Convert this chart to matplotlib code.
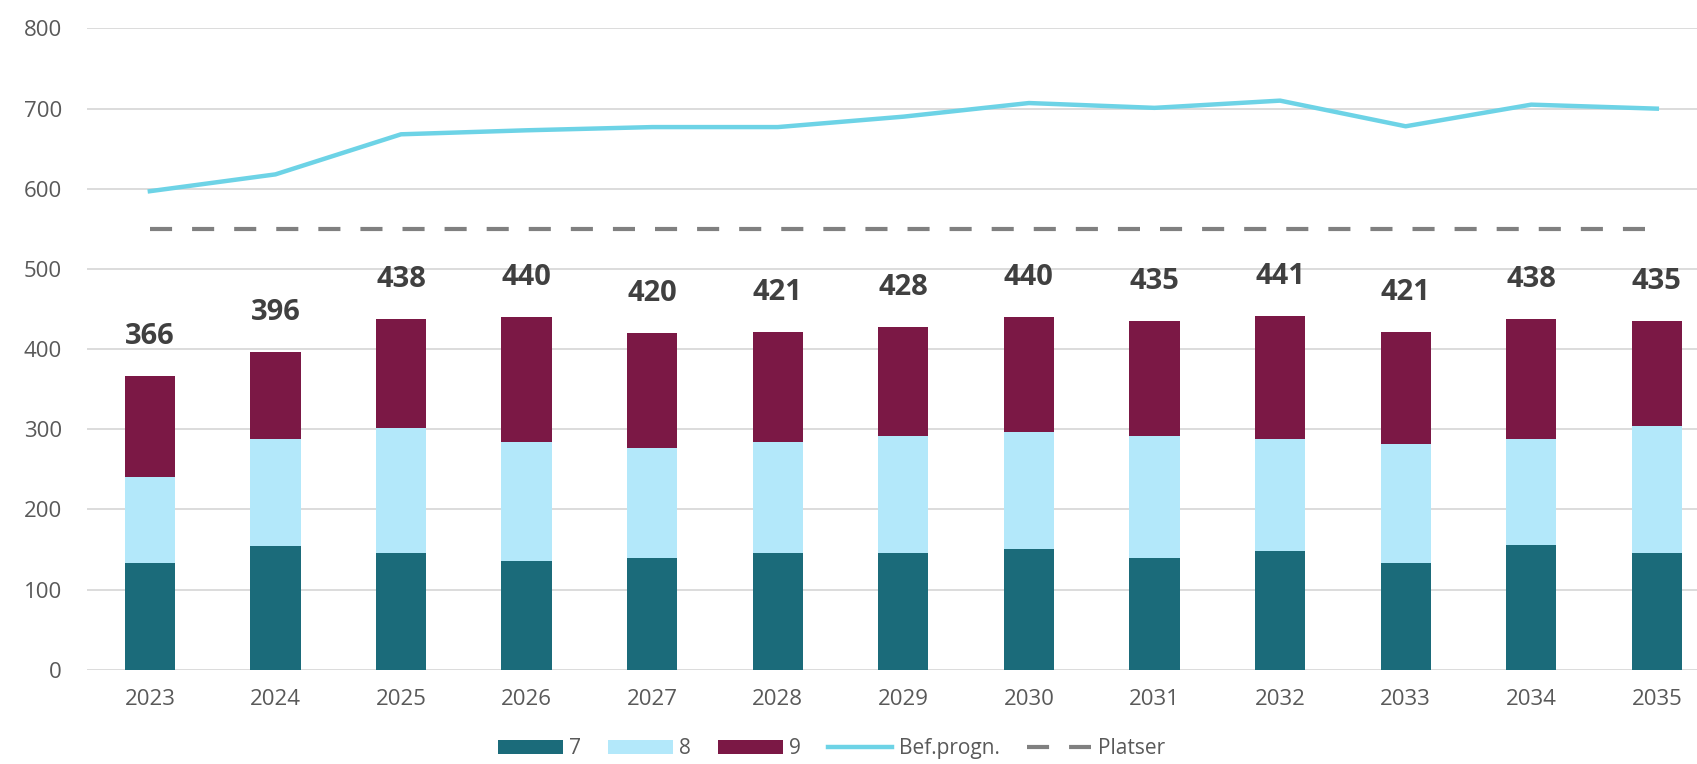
import numpy as np
import matplotlib
matplotlib.use("Agg")
import matplotlib.pyplot as plt

# data
years = ["2023", "2024", "2025", "2026", "2027", "2028", "2029",
         "2030", "2031", "2032", "2033", "2034", "2035"]
ak7 = [133, 154, 146, 136, 139, 146, 146, 151, 139, 148, 133, 156, 146]
ak8 = [108, 134, 155, 148, 137, 138, 145, 145, 152, 140, 148, 132, 158]
ak9 = [125, 108, 137, 156, 144, 137, 137, 144, 144, 153, 140, 150, 131]
totals = [366, 396, 438, 440, 420, 421, 428, 440, 435, 441, 421, 438, 435]
befprogn = [597, 618, 668, 673, 677, 677, 690, 707, 701, 710, 678, 705, 700]
platser = [550] * 13

c7 = "#1B6B7A"
c8 = "#B3E8FA"
c9 = "#7B1845"
cline = "#6DD3E6"
cdash = "#808080"

plt.rcParams['font.family'] = ['Open Sans', 'DejaVu Sans']

fig = plt.figure(figsize=(16.97, 7.64), dpi=100)
ax = fig.add_axes([0.0513, 0.1234, 0.9487, 0.8393])

x = np.arange(len(years))
w = 0.4
b1 = ax.bar(x, ak7, w, color=c7, label="7", zorder=3)
b2 = ax.bar(x, ak8, w, bottom=ak7, color=c8, label="8", zorder=3)
bot9 = np.array(ak7) + np.array(ak8)
b3 = ax.bar(x, ak9, w, bottom=bot9, color=c9, label="9", zorder=3)

l1, = ax.plot(x, befprogn, color=cline, lw=3.2, label="Bef.progn.", zorder=4)
l2, = ax.plot(x, platser, color=cdash, lw=3.0, dashes=(5.3, 4.8),
              label="Platser", zorder=4)

for xi, t in zip(x, totals):
    ax.annotate(str(t), (xi, t), xytext=(0, 18), textcoords="offset points",
                ha="center", va="bottom", fontsize=21, fontweight="bold",
                color="#404040")

ax.set_ylim(0, 800)
ax.set_xlim(-0.5, 12.32)
ax.set_yticks(range(0, 801, 100))
ax.set_xticks(x)
ax.set_xticklabels(years)
ax.grid(axis="y", color="#D9D9D9", lw=1.3, zorder=0)
ax.set_axisbelow(True)
for s in ax.spines.values():
    s.set_visible(False)
ax.tick_params(axis="both", length=0, labelsize=16, labelcolor="#595959")
ax.tick_params(axis="y", pad=18)
ax.tick_params(axis="x", pad=14)

fig.legend([b1, b2, b3, l1, l2], ["7", "8", "9", "Bef.progn.", "Platser"],
           loc="center", bbox_to_anchor=(0.49, 0.02), ncol=5, frameon=False,
           fontsize=15, handlelength=3.1, handleheight=0.72,
           handletextpad=0.3, columnspacing=1.3, labelcolor="#595959")

fig.savefig("out.png", dpi=100)
